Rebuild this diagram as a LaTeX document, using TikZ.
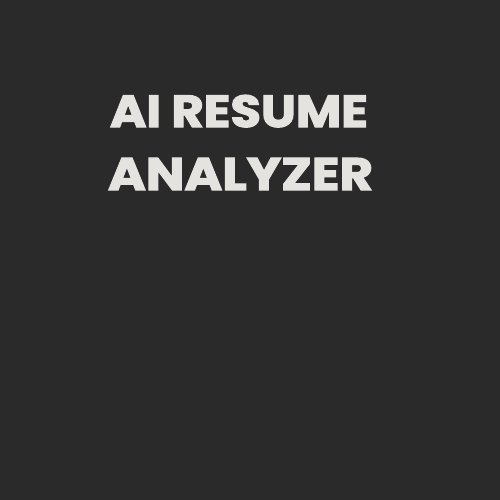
\documentclass[tikz,border=0pt]{standalone}
\usepackage{fontspec}
\newfontfamily\titlefont{Poppins}[BoldFeatures={FakeBold=2.5}]
\definecolor{bgdark}{HTML}{2A2A2A}
\definecolor{titlegray}{HTML}{E4E3DF}

\begin{document}
\begin{tikzpicture}[x=1pt,y=-1pt,
  title line/.style={anchor=north west,inner sep=0pt,outer sep=0pt,text=titlegray}]

  % background
  \fill [bgdark] (0,0) rectangle (500,500);
  \useasboundingbox (0,0) rectangle (500,500);

  % title, two lines
  \node [title line] (ai-resume) at (110,95)
    {\resizebox{258pt}{32pt}{\titlefont\bfseries AI RESUME}};
  \node [title line] (analyzer) at (108,158)
    {\resizebox{265pt}{32pt}{\titlefont\bfseries ANALYZER}};

\end{tikzpicture}
\end{document}
